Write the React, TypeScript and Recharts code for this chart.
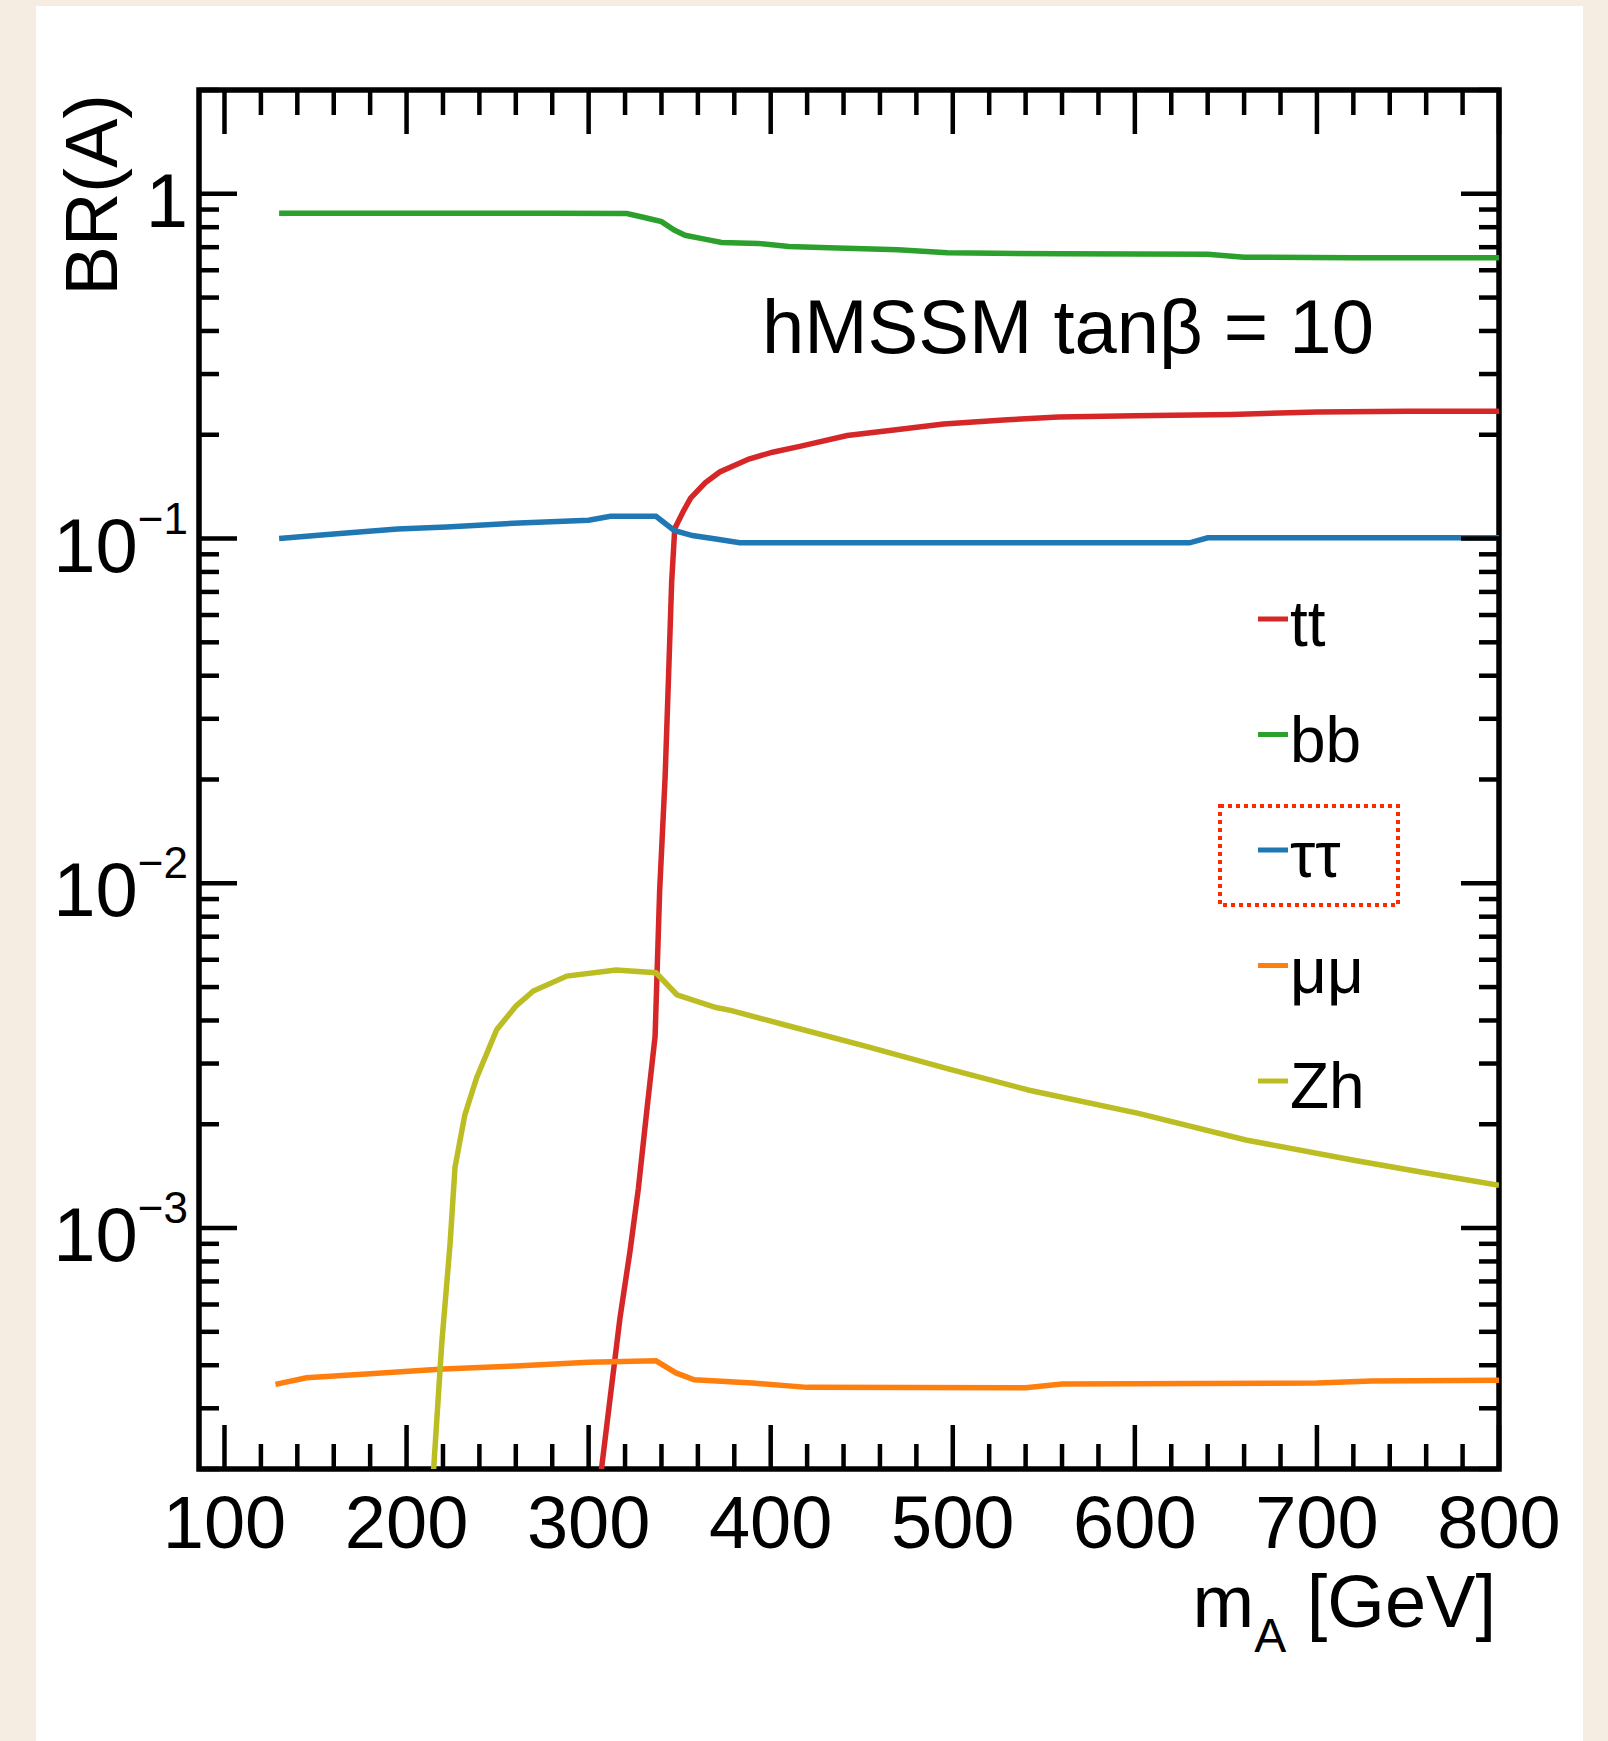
import React from "react";
import { LineChart, Line, XAxis, YAxis, Legend, Customized } from "recharts";

// m_A [GeV] and BR(A), one pair of arrays per decay channel
const ttMass = [306, 311.7, 317.2, 322.7, 327.3, 331.9, 336.5, 339, 342, 343.8, 345.6, 347.3, 352, 356, 364, 372, 388, 401, 416, 442, 470, 495, 530, 558, 600, 653, 700, 750, 800];
const ttBR = [1.8e-4, 3.18e-4, 5.48e-4, 8.55e-4, 1.3e-3, 2.18e-3, 3.6e-3, 9.5e-3, 0.0203, 0.0385, 0.0748, 0.107, 0.12, 0.131, 0.145, 0.156, 0.17, 0.178, 0.185, 0.199, 0.207, 0.215, 0.221, 0.225, 0.227, 0.229, 0.233, 0.234, 0.234];

const bbMass = [130, 200, 280, 321, 330, 340, 347, 353, 363, 373, 393, 410, 432, 470, 497, 560, 640, 660, 720, 800];
const bbBR = [0.878, 0.878, 0.878, 0.876, 0.855, 0.83, 0.785, 0.758, 0.74, 0.722, 0.718, 0.703, 0.697, 0.688, 0.674, 0.67, 0.668, 0.655, 0.652, 0.652];

const tautauMass = [130, 160, 195, 222, 262, 300, 312, 337, 347, 357, 369, 383, 500, 630, 640, 800];
const tautauBR = [0.1, 0.103, 0.1065, 0.108, 0.111, 0.113, 0.116, 0.116, 0.1055, 0.102, 0.0998, 0.0972, 0.0972, 0.0972, 0.1005, 0.1005];

const mumuMass = [128, 145, 180, 220, 260, 300, 337, 348, 358, 390, 420, 540, 560, 700, 730, 800];
const mumuBR = [3.52e-4, 3.68e-4, 3.78e-4, 3.9e-4, 3.98e-4, 4.08e-4, 4.12e-4, 3.8e-4, 3.63e-4, 3.55e-4, 3.45e-4, 3.44e-4, 3.53e-4, 3.55e-4, 3.6e-4, 3.62e-4];

const zhMass = [214, 219.3, 223.9, 226.6, 232, 238.5, 249.5, 260, 269.6, 288, 315, 337, 348.5, 370, 378, 408, 453, 497, 542, 602, 661, 721, 765, 800];
const zhBR = [1.7e-4, 4.6e-4, 9.0e-4, 1.5e-3, 2.13e-3, 2.73e-3, 3.76e-3, 4.4e-3, 4.87e-3, 5.38e-3, 5.6e-3, 5.5e-3, 4.75e-3, 4.36e-3, 4.28e-3, 3.88e-3, 3.36e-3, 2.9e-3, 2.51e-3, 2.15e-3, 1.8e-3, 1.57e-3, 1.43e-3, 1.33e-3];

const seriesNames = ["tt", "bb", "ττ", "μμ", "Zh"];

const xMajor = [100, 200, 300, 400, 500, 600, 700, 800];
const xTicks = xMajor.flatMap((v) => [v, v + 20, v + 40, v + 60, v + 80]).filter((v) => v <= 800);
const yMajor = [0.001, 0.01, 0.1, 1];
const yDecades = [1e-4, 1e-3, 1e-2, 1e-1, 1];
const yTicks = yDecades
  .flatMap((d) => [1, 2, 3, 4, 5, 6, 7, 8, 9].map((k) => (k === 1 && d !== 1e-4 ? yMajor[yDecades.indexOf(d) - 1] : k * d)))
  .filter((v) => v >= 2e-4 && v <= 2);

const toPoints = (mass: number[], br: number[]) => mass.map((m, i) => ({ m, v: br[i] }));

const series = [
  { name: "tt", color: "#d62728", data: toPoints(ttMass, ttBR) },
  { name: "bb", color: "#2ca02c", data: toPoints(bbMass, bbBR) },
  { name: "ττ", color: "#1f77b4", data: toPoints(tautauMass, tautauBR) },
  { name: "μμ", color: "#ff7f0e", data: toPoints(mumuMass, mumuBR) },
  { name: "Zh", color: "#bcbd22", data: toPoints(zhMass, zhBR) },
];

const W = 1608;
const H = 1741;
const PLOT = { left: 199, right: 1499, top: 90, bottom: 1469 };
const FONT = "'Liberation Sans', Arial, Helvetica, sans-serif";

const XTick = (props: any) => {
  const { x, payload } = props;
  const major = payload.value % 100 === 0;
  const len = major ? 44 : 25;
  return (
    <g>
      <line x1={x} x2={x} y1={PLOT.bottom} y2={PLOT.bottom - len} stroke="#000" strokeWidth={4.5} />
      <line x1={x} x2={x} y1={PLOT.top} y2={PLOT.top + len} stroke="#000" strokeWidth={4.5} />
      {major && (
        <text x={x} y={1548} textAnchor="middle" fontSize={74} fontFamily={FONT} fill="#000">
          {payload.value}
        </text>
      )}
    </g>
  );
};

const YTick = (props: any) => {
  const { y, payload } = props;
  const v = payload.value;
  const major = yMajor.includes(v);
  const len = major ? 38 : 20;
  const exp = Math.round(Math.log10(v));
  return (
    <g>
      <line x1={PLOT.left} x2={PLOT.left + len} y1={y} y2={y} stroke="#000" strokeWidth={4.5} />
      <line x1={PLOT.right} x2={PLOT.right - len} y1={y} y2={y} stroke="#000" strokeWidth={4.5} />
      {major && (
        <text x={188} y={y + 33} textAnchor="end" fontSize={76} fontFamily={FONT} fill="#000">
          {exp === 0 ? (
            "1"
          ) : (
            <>
              <tspan>10</tspan>
              <tspan dy={-38} fontSize={44}>{"−" + Math.abs(exp)}</tspan>
            </>
          )}
        </text>
      )}
    </g>
  );
};

const Frame = () => (
  <g fontFamily={FONT} fill="#000">
    <rect
      x={PLOT.left}
      y={PLOT.top}
      width={PLOT.right - PLOT.left}
      height={PLOT.bottom - PLOT.top}
      fill="none"
      stroke="#000"
      strokeWidth={5.5}
    />
    <text x={762} y={353} fontSize={76}>
      hMSSM tanβ = 10
    </text>
    <text transform="translate(117, 94) rotate(-90)" textAnchor="end" fontSize={74}>
      BR(A)
    </text>
    <text x={1496} y={1627} textAnchor="end" fontSize={74}>
      m
      <tspan dy={25} fontSize={48}>A</tspan>
      <tspan dy={-25}> [GeV]</tspan>
    </text>
  </g>
);

const LegendBox = (props: any) => {
  const items = [...(props.payload || [])].sort(
    (a: any, b: any) => seriesNames.indexOf(a.value) - seriesNames.indexOf(b.value)
  );
  return (
    <svg width={260} height={560} style={{ display: "block", overflow: "visible" }}>
      {items.map((item: any, i: number) => {
        const cy = 59 + i * 115.5;
        return (
          <g key={item.value}>
            <line x1={58} x2={88} y1={cy} y2={cy} stroke={item.color} strokeWidth={5} />
            <text x={90} y={cy + 27} fontSize={64} fontFamily={FONT} fill="#000">
              {item.value}
            </text>
          </g>
        );
      })}
      <rect x={20} y={246} width={178} height={99} fill="none" stroke="#ff2a00" strokeWidth={4} strokeDasharray="4 4" />
    </svg>
  );
};

export default function App() {
  return (
    <div style={{ position: "absolute", left: 0, top: 0, width: W, height: H, background: "#f5ede1", overflow: "hidden" }}>
      <div style={{ position: "absolute", left: 36, top: 6, width: 1547, height: H - 6, background: "#ffffff" }} />
      <div style={{ position: "absolute", left: 0, top: 0 }}>
        <LineChart width={W} height={H} margin={{ top: PLOT.top, right: W - PLOT.right, bottom: H - PLOT.bottom - 60, left: PLOT.left - 100 }}>
          <XAxis
            type="number"
            dataKey="m"
            domain={[86, 800]}
            allowDataOverflow
            ticks={xTicks}
            interval={0}
            height={60}
            axisLine={false}
            tickLine={false}
            tick={<XTick />}
          />
          <YAxis
            type="number"
            dataKey="v"
            scale="log"
            domain={[2e-4, 2]}
            allowDataOverflow
            ticks={yTicks}
            interval={0}
            width={100}
            axisLine={false}
            tickLine={false}
            tick={<YTick />}
          />
          {series.map((s) => (
            <Line
              key={s.name}
              data={s.data}
              dataKey="v"
              name={s.name}
              type="linear"
              stroke={s.color}
              strokeWidth={5.5}
              dot={false}
              activeDot={false}
              isAnimationActive={false}
            />
          ))}
          <Legend
            layout="vertical"
            align="center"
            verticalAlign="middle"
            content={<LegendBox />}
            wrapperStyle={{ left: 1200, top: 560, width: 260, height: 560 }}
          />
          <Customized component={<Frame />} />
        </LineChart>
      </div>
    </div>
  );
}
